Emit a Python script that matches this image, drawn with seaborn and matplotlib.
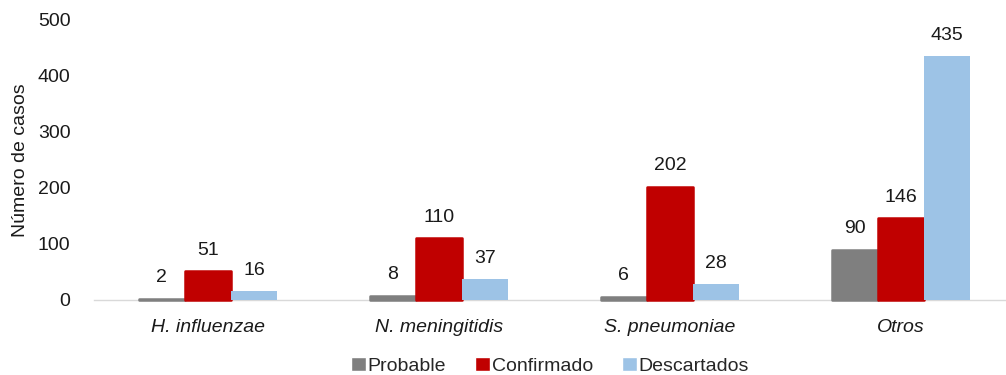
import matplotlib
matplotlib.use("Agg")
import matplotlib.pyplot as plt
import seaborn as sns
import pandas as pd

categories = ["H. influenzae", "N. meningitidis", "S. pneumoniae", "Otros"]
series = ["Probable", "Confirmado", "Descartados"]
probable = [2, 8, 6, 90]
confirmado = [51, 110, 202, 146]
descartados = [16, 37, 28, 435]
colors = ["#7f7f7f", "#c00000", "#9dc3e6"]

df = pd.DataFrame({
    "categoria": categories * 3,
    "serie": [s for s in series for _ in categories],
    "casos": probable + confirmado + descartados,
})

sns.set_theme(style="white")
plt.rcParams["font.family"] = ["Liberation Sans", "DejaVu Sans"]

FS = 14
TXT = "#1a1a1a"

fig = plt.figure(figsize=(10.06, 3.75), dpi=100)
ax = fig.add_axes([94 / 1006, 1 - 300 / 375, (1006 - 94) / 1006, 280 / 375])

sns.barplot(data=df, x="categoria", y="casos", hue="serie", hue_order=series,
            palette=colors, width=0.6, gap=0, saturation=1, ax=ax, errorbar=None)

# rounded outlines on the grey and red bars
for cont, col in zip(ax.containers, colors):
    for p in cont.patches:
        if col != colors[2]:
            p.set_edgecolor(col)
            p.set_linewidth(1.8)
            p.set_joinstyle("round")
        else:
            p.set_linewidth(0)
        p.set_clip_on(False)
    ax.bar_label(cont, padding=9, fontsize=FS, color=TXT)

ax.set_xlim(-114 / 231, (1006 - 208) / 231)
ax.set_ylim(0, 500)
ax.set_yticks([0, 100, 200, 300, 400, 500])
ax.tick_params(axis="y", labelsize=FS, length=0, pad=17, labelcolor=TXT)
ax.tick_params(axis="x", labelsize=FS, length=0, pad=14, labelcolor=TXT)
for t in ax.get_xticklabels():
    t.set_fontstyle("italic")
ax.set_xlabel("")
ax.set_ylabel("Número de casos", fontsize=FS, color=TXT, labelpad=6)

for s in ["top", "right", "left"]:
    ax.spines[s].set_visible(False)
ax.spines["bottom"].set_color("#d9d9d9")
ax.spines["bottom"].set_linewidth(1)
ax.spines["bottom"].set_zorder(0)

sns.move_legend(ax, "upper center", bbox_to_anchor=(0.5, -0.14), ncol=3,
                frameon=False, title=None, fontsize=FS, handlelength=0.75,
                handleheight=0.75, handletextpad=0.1, columnspacing=1.5)

fig.savefig("out.png", dpi=100)
